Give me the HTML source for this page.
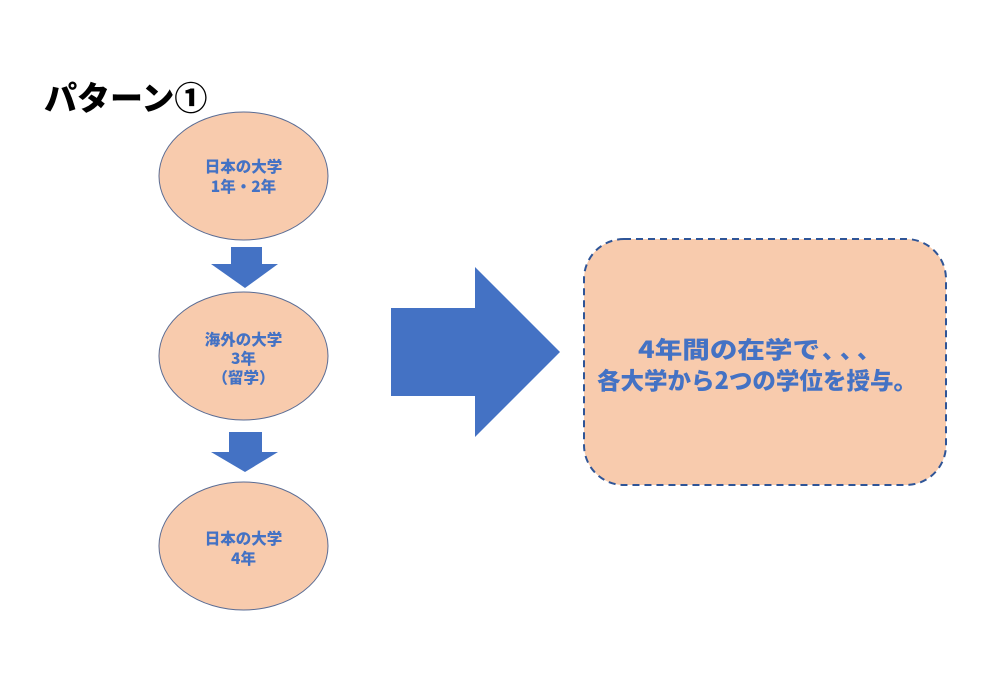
<!DOCTYPE html>
<html><head><meta charset="utf-8"><style>
html,body{margin:0;padding:0;background:#fff;width:1000px;height:693px;overflow:hidden}
svg text{font-family:"Noto Sans CJK JP","Liberation Sans",sans-serif;font-weight:900}
</style></head><body>
<svg width="1000" height="693" viewBox="0 0 1000 693" xmlns="http://www.w3.org/2000/svg">
<text x="44" y="110" font-size="33" fill="#000">パターン①</text>
<ellipse cx="243.5" cy="176" rx="84.5" ry="64" fill="#f8cbad" stroke="#5a6c94" stroke-width="1"/>
<text x="243.5" y="172" font-size="15.5" fill="#4472c4" text-anchor="middle">日本の大学</text>
<text x="243.5" y="192" font-size="15.5" fill="#4472c4" text-anchor="middle">1年・2年</text>
<polygon points="231,247 262,247 262,264 278,264 245,288 211,264 231,264" fill="#4472c4"/>
<ellipse cx="243.5" cy="356" rx="84.5" ry="64" fill="#f8cbad" stroke="#5a6c94" stroke-width="1"/>
<text x="243.5" y="345" font-size="15.5" fill="#4472c4" text-anchor="middle">海外の大学</text>
<text x="243.5" y="364" font-size="15.5" fill="#4472c4" text-anchor="middle">3年</text>
<text x="243.5" y="383" font-size="15.5" fill="#4472c4" text-anchor="middle">（留学）</text>
<polygon points="229,432 262,432 262,452 278,452 245,472 211,452 229,452" fill="#4472c4"/>
<ellipse cx="243.5" cy="546" rx="84.5" ry="64" fill="#f8cbad" stroke="#5a6c94" stroke-width="1"/>
<text x="243.5" y="544" font-size="15.5" fill="#4472c4" text-anchor="middle">日本の大学</text>
<text x="243.5" y="564" font-size="15.5" fill="#4472c4" text-anchor="middle">4年</text>
<polygon points="391,308 475,308 475,267 560,352 475,437 475,396 391,396" fill="#4472c4"/>
<rect x="584" y="239" width="362" height="246" rx="40" ry="40" fill="#f8cbad" stroke="#2f5597" stroke-width="2" stroke-dasharray="7,5"/>
<text x="638" y="358" font-size="23.5" fill="#4472c4" textLength="182" lengthAdjust="spacingAndGlyphs">4年間の在学で</text>
<text x="822" y="358" font-size="23.5" fill="#4472c4">、</text>
<text x="840" y="358" font-size="23.5" fill="#4472c4">、</text>
<text x="857" y="358" font-size="23.5" fill="#4472c4">、</text>
<text x="597" y="389" font-size="23.5" fill="#4472c4" textLength="320" lengthAdjust="spacingAndGlyphs">各大学から2つの学位を授与。</text>
</svg>
</body></html>
